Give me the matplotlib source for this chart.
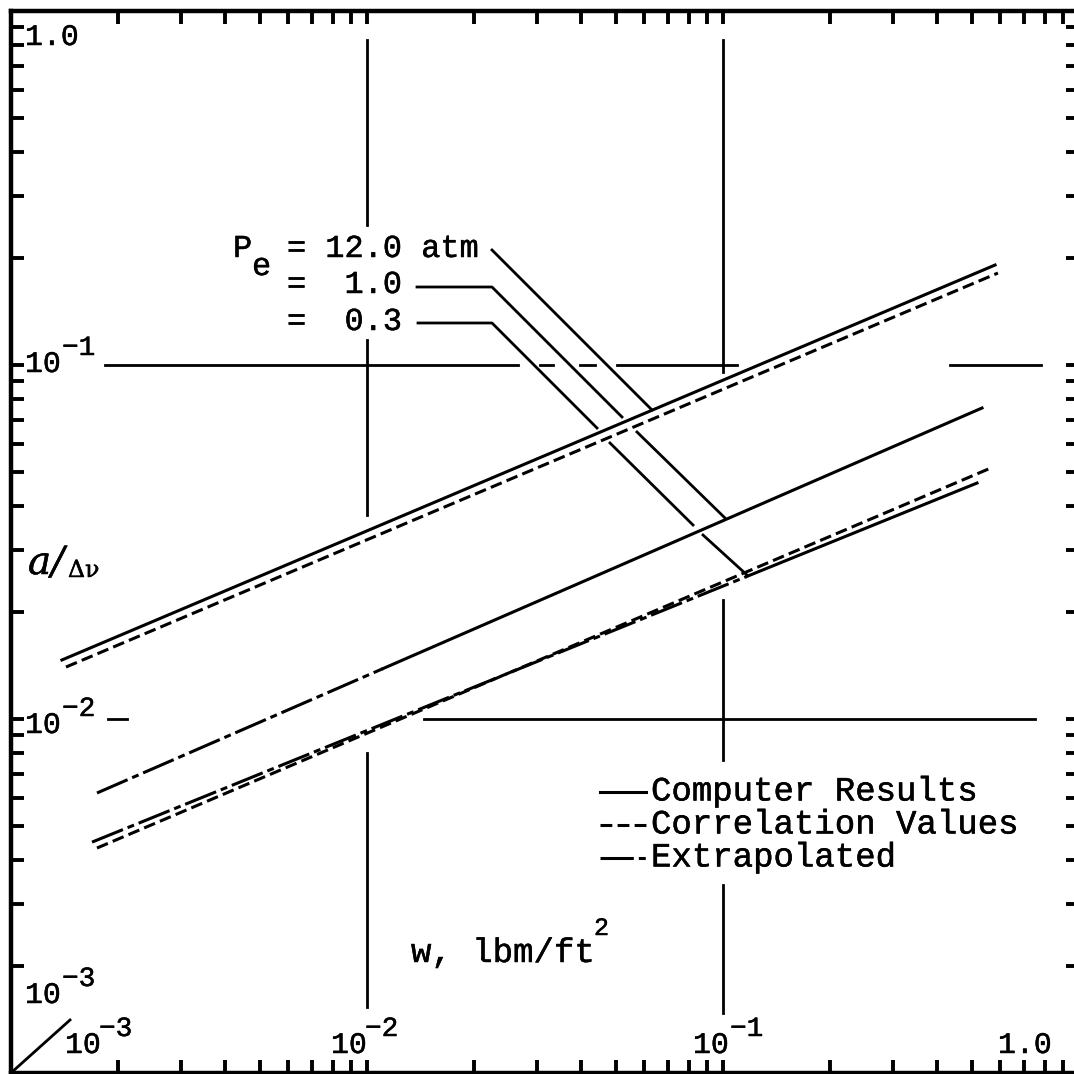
import matplotlib
matplotlib.use("Agg")
import matplotlib.pyplot as plt
import matplotlib.patheffects as pe
from matplotlib.ticker import LogLocator, NullFormatter
import numpy as np

plt.rcParams["lines.scale_dashes"] = False

# values (w in lbm/ft^2, a/dv), ends of each line
# P_e = 12.0 atm
w_12 = [0.00139, 0.581]
comp_12 = [0.01468, 0.1916]
w_12_corr = [0.001427, 0.592]
corr_12 = [0.01402, 0.1819]
# P_e = 1.0 atm
w_1_extrap = [0.001744, 0.01109]
extrap_1 = [0.00618, 0.01388]
w_1 = [0.01109, 0.534]
comp_1 = [0.01388, 0.0756]
# P_e = 0.3 atm
w_03_extrap = [0.001689, 0.1168]
extrap_03 = [0.00449, 0.02529]
w_03 = [0.1168, 0.517]
comp_03 = [0.02529, 0.0464]
w_03_corr = [0.001744, 0.566]
corr_03 = [0.00432, 0.0512]

# tick labels (base, exponent)
x_tick_labels = [("10", "\u22123"), ("10", "\u22122"), ("10", "\u22121"), ("1.0", "")]
y_tick_labels = [("1.0", ""), ("10", "\u22121"), ("10", "\u22122"), ("10", "\u22123")]
p_labels = ["= 12.0 atm", "=  1.0", "=  0.3"]
legend_labels = ["Computer Results", "Correlation Values", "Extrapolated"]

# line styles
SOLID = "-"
DASHED = (0, (8.5, 3.8))
DASHDOT = (0, (24, 3.6, 5, 3.6))
LW = 2.2
MONO = "Liberation Mono"
# typewriter text is slightly heavier than the regular font
INK = [pe.withStroke(linewidth=0.35, foreground="black")]

# figure geometry in pixels
W, H = 1074, 1074
X0, X1 = 11, 1079    # columns of w = 1e-3 and w = 1
Y0, Y1 = 1073, 11    # rows of a = 1e-3 and a = 1


def ax_xy(px, py):
    # pixel position -> axes fraction
    return (px - X0) / (X1 - X0), (Y0 - py) / (Y0 - Y1)


def put(px, py, s, size, **kw):
    kw.setdefault("family", MONO)
    kw.setdefault("va", "baseline")
    return ax.text(*ax_xy(px, py), s, fontsize=size, transform=ax.transAxes,
                   path_effects=INK, **kw)


fig = plt.figure(figsize=(W / 100, H / 100), dpi=100)
ax = fig.add_axes([X0 / W, (H - Y0) / H, (X1 - X0) / W, (Y0 - Y1) / H])
ax.set_xscale("log")
ax.set_yscale("log")
ax.set_xlim(1e-3, 1.0)
ax.set_ylim(1e-3, 1.0)

for s in ax.spines.values():
    s.set_linewidth(3.2)
ax.spines["right"].set_visible(False)
for axis in (ax.xaxis, ax.yaxis):
    axis.set_major_locator(LogLocator(base=10, numticks=10))
    axis.set_minor_locator(LogLocator(base=10, subs=np.arange(2, 10), numticks=30))
    axis.set_minor_formatter(NullFormatter())
ax.tick_params(which="both", direction="in", top=True, right=True,
               labelbottom=False, labelleft=False, width=2.8, length=9.5)

# curves
ax.plot(w_12, comp_12, color="black", lw=LW, ls=SOLID)
ax.plot(w_12_corr, corr_12, color="black", lw=LW, ls=DASHED)
ax.plot(w_1_extrap, extrap_1, color="black", lw=LW, ls=DASHDOT)
ax.plot(w_1, comp_1, color="black", lw=LW, ls=SOLID)
ax.plot(w_03_extrap, extrap_03, color="black", lw=LW, ls=DASHDOT)
ax.plot(w_03, comp_03, color="black", lw=LW, ls=SOLID)
ax.plot(w_03_corr, corr_03, color="black", lw=LW, ls=DASHED)

# broken grid lines at the decades (pixel extents)
v_grid = {1e-2: [(40, 225), (340, 515), (753, 1007)],
          1e-1: [(40, 372), (600, 760), (885, 1013)]}
h_grid = {1e-1: [(105, 518), (540, 553), (580, 595), (617, 737), (950, 1041)],
          1e-2: [(108, 127), (424, 1035)]}
for xv, segs in v_grid.items():
    for a, b in segs:
        ax.plot([xv, xv], [ax_xy(0, a)[1], ax_xy(0, b)[1]], color="black",
                lw=2.0, transform=ax.get_xaxis_transform())
for yv, segs in h_grid.items():
    for a, b in segs:
        ax.plot([ax_xy(a, 0)[0], ax_xy(b, 0)[0]], [yv, yv], color="black",
                lw=2.0, transform=ax.get_yaxis_transform())

# corner slash
ax.plot(*zip(ax_xy(12, 1072), ax_xy(70, 1020)), color="black", lw=2.0,
        transform=ax.transAxes, clip_on=False)

# tick labels
x_pos = [(67, 102), (333, 368), (695, 733), (1000, None)]
for (base, ex), (bx, ex_x) in zip(x_tick_labels, x_pos):
    put(bx - 2, 1053, base, 21.5)
    if ex:
        put(ex_x - 3, 1036, ex, 20)
y_pos = [45, 372, 733, 1003]
for (base, ex), by in zip(y_tick_labels, y_pos):
    put(25, by, base, 21.5)
    if ex:
        put(62, by - 17, ex, 20)

# axis labels
put(28, 574, "a/", 28, family="DejaVu Serif", style="italic")
put(68, 577, "\u0394\u03bd", 17, family="DejaVu Serif")
put(411, 962, "w, lbm/ft", 24.5)
put(594, 935, "2", 18)

# pressure labels with leader lines
put(233, 257, "P", 23)
put(252, 275, "e", 23)
for lab, by in zip(p_labels, [257, 293, 330]):
    put(287, by, lab, 23)
leaders = [[(492, 250), (652, 410)],
           [(417, 287), (492, 287), (622, 417)], [(637, 432), (725, 518)],
           [(418, 323), (492, 323), (597, 428)], [(610, 443), (693, 525)],
           [(703, 535), (747, 575)]]
for pts in leaders:
    xs, ys = zip(*[ax_xy(*p) for p in pts])
    ax.plot(xs, ys, color="black", lw=2.0, transform=ax.transAxes)

# legend drawn by hand
for lab, ls, row in zip(legend_labels, [SOLID, DASHED, DASHDOT], [792, 825, 858]):
    xs, ys = zip(ax_xy(600, row), ax_xy(646, row))
    ax.plot(xs, ys, color="black", lw=LW, ls=ls, transform=ax.transAxes)
    put(651, row, lab, 24.5, va="center")

fig.savefig("out.png", dpi=100)
